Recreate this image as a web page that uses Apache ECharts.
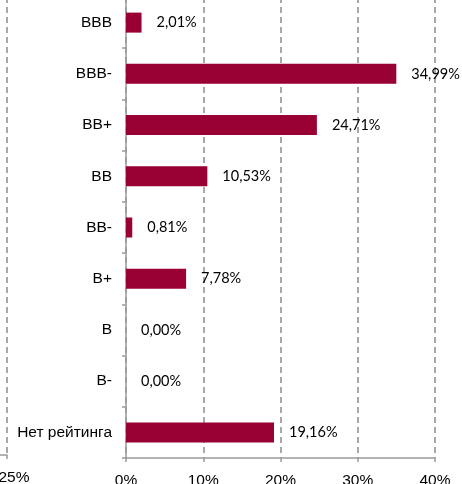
<!DOCTYPE html>
<html>
<head>
<meta charset="utf-8">
<script src="https://cdn.jsdelivr.net/npm/echarts@6/dist/echarts.min.js"></script>
<style>
  html, body { margin: 0; padding: 0; background: #fff; }
  #chart { width: 462px; height: 484px; }
</style>
</head>
<body>
<div id="chart"></div>
<script>
// рейтинги и доли, %
const ratings = ['BBB', 'BBB-', 'BB+', 'BB', 'BB-', 'B+', 'B', 'B-', 'Нет рейтинга'];
const shares = [2.01, 34.99, 24.71, 10.53, 0.81, 7.78, 0.00, 0.00, 19.16];
const xTicks = [0, 10, 20, 30, 40];
const leftTicks = [0, 25]; // обрезанная соседняя диаграмма слева

const axisGrey = '#9a9a9a';
const dashGrey = '#8c8c8c';

const chart = echarts.init(document.getElementById('chart'));
chart.setOption({
  animation: false,
  grid: [
    { left: 126, width: 309, top: -3, bottom: 26, outerBoundsMode: 'none', containLabel: false },
    { left: 0, width: 7, top: -3, bottom: 29, outerBoundsMode: 'none', containLabel: false }
  ],
  xAxis: [
    {
      gridIndex: 0,
      type: 'value',
      min: xTicks[0],
      max: xTicks[xTicks.length - 1],
      interval: xTicks[1] - xTicks[0],
      axisLine: { show: true, lineStyle: { color: axisGrey, width: 1.5 } },
      axisTick: { show: true, length: 4, lineStyle: { color: axisGrey, width: 1.5 } },
      splitLine: { show: true, lineStyle: { color: dashGrey, type: [6, 4], width: 1.5 } },
      axisLabel: {
        color: '#000',
        fontFamily: 'Liberation Sans',
        fontSize: 15.5,
        margin: 15,
        formatter: v => v + '%'
      }
    },
    {
      gridIndex: 1,
      type: 'value',
      min: leftTicks[0],
      max: leftTicks[1],
      interval: leftTicks[1] - leftTicks[0],
      axisLine: { show: true, lineStyle: { color: axisGrey, width: 1.5 } },
      axisTick: { show: true, length: 4, lineStyle: { color: axisGrey, width: 1.5 } },
      splitLine: {
        show: true,
        showMinLine: false,
        lineStyle: { color: dashGrey, type: [6, 4], width: 1.5 }
      },
      axisLabel: {
        color: '#000',
        fontFamily: 'Liberation Sans',
        fontSize: 15.5,
        margin: 15,
        padding: [0, 0, 0, 14],
        showMinLabel: false,
        formatter: v => v + '%'
      }
    }
  ],
  yAxis: [
    {
      gridIndex: 0,
      type: 'category',
      inverse: true,
      data: ratings,
      axisLine: { show: true, lineStyle: { color: axisGrey, width: 1.5 } },
      axisTick: { show: true, length: 4, lineStyle: { color: axisGrey, width: 1.5 } },
      axisLabel: {
        color: '#000',
        fontFamily: 'Liberation Sans',
        fontSize: 15.5,
        margin: 14
      }
    },
    {
      gridIndex: 1,
      type: 'category',
      data: ratings,
      show: false
    }
  ],
  series: [
    {
      type: 'bar',
      xAxisIndex: 0,
      yAxisIndex: 0,
      data: shares,
      barWidth: 20,
      itemStyle: { color: '#990033' },
      label: {
        show: true,
        position: 'right',
        distance: 15,
        color: '#000',
        fontFamily: 'Lato',
        fontSize: 14.5,
        formatter: p => p.value.toFixed(2).replace('.', ',') + '%'
      }
    }
  ]
});
</script>
</body>
</html>
